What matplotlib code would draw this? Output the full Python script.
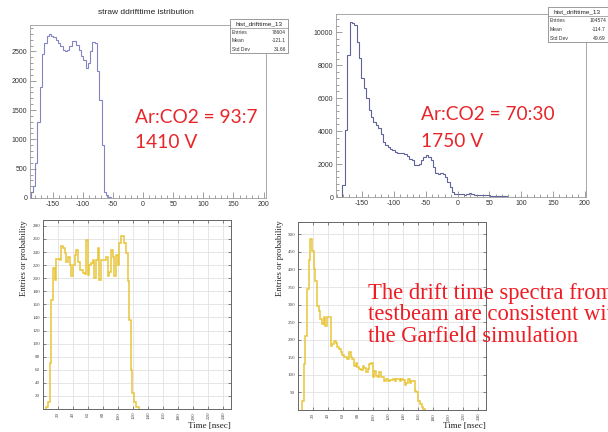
import numpy as np
import matplotlib
matplotlib.use("Agg")
import matplotlib.pyplot as plt
from matplotlib.patches import Rectangle
from matplotlib.lines import Line2D
from matplotlib.ticker import MultipleLocator

plt.rcParams['axes.unicode_minus'] = False

# ---------------- data ----------------
# top-left: Ar:CO2 = 93:7, 1410 V (measured)
tl_start, tl_width = -187.0, 3.8
tl_counts = [100, 200, 590, 1290, 1900, 2450, 2650, 2760, 2800, 2760, 2740, 2700,
             2650, 2590, 2530, 2500, 2530, 2590, 2670, 2670, 2610, 2530, 2420, 2360,
             2220, 2300, 2500, 2660, 2650, 2160, 1670, 900, 100, 45, 10, 5]
tl_stats = ["hist_drifttime_13", ["Entries", "78604"], ["Mean", "-121.1"], ["Std Dev", "31.66"]]

# top-right: Ar:CO2 = 70:30, 1750 V (measured)
tr_start, tr_width = -181.0, 3.75
tr_counts = [710, 4060, 8620, 10590, 10550, 10450, 9430, 8420, 7200, 6590, 5980, 5270,
             4870, 4560, 4360, 4160, 3850, 3350, 3140, 3040, 2940, 2840, 2740, 2640,
             2680, 2640, 2600, 2490, 2330, 2230, 1930, 1930, 2030, 2230, 2430, 2530,
             2430, 2230, 1830, 1460, 1420, 1480, 1420, 1220, 910, 610, 300, 200,
             190, 170, 160, 150, 180, 260, 200, 150, 120, 110, 100, 130, 150, 120,
             90, 80, 60, 60, 50, 40, 40, 30, 30, 20, 20, 20, 10, 10, 10, 10]
tr_stats = ["hist_drifttime_13", ["Entries", "104574"], ["Mean", "-114.7"], ["Std Dev", "49.69"]]

# bottom-left: Garfield simulation (93:7)
bl_start, bl_width = 4.6, 2.2
bl_counts = [3, 10, 70, 167, 215, 197, 230, 230, 228, 250, 246, 238, 225, 233, 220, 203,
             220, 236, 243, 225, 212, 212, 208, 207, 259, 205, 220, 223, 228, 200, 228,
             246, 197, 228, 228, 228, 233, 203, 210, 243, 233, 203, 236, 220, 254, 264,
             264, 254, 238, 195, 136, 60, 24, 11, 3, 3]

# bottom-right: Garfield simulation (70:30)
br_start, br_width = 5.2, 2.24
br_counts = [26, 131, 212, 345, 426, 488, 452, 402, 368, 297, 283, 259, 245, 264, 240,
             266, 266, 183, 188, 195, 192, 178, 173, 164, 157, 150, 152, 145, 164, 150,
             145, 126, 133, 121, 117, 114, 126, 119, 107, 117, 131, 133, 93, 112, 97, 95,
             107, 93, 93, 83, 88, 83, 86, 85, 88, 83, 88, 88, 83, 88, 85, 72, 76, 88, 78,
             83, 83, 55, 50, 26, 17, 9, 2]

top_title = "straw ddrifttime istribution"
label_tl = ["Ar:CO2 = 93:7", "1410 V"]
label_tr = ["Ar:CO2 = 70:30", "1750 V"]
conclusion = ["The drift time spectra from the", "testbeam are consistent with", "the Garfield simulation"]

# ---------------- figure ----------------
W, H = 608, 432
fig = plt.figure(figsize=(6.08, 4.32), dpi=100)
fig.patch.set_facecolor('white')


def box(l, t, r, b):
    return [l / W, 1 - b / H, (r - l) / W, (b - t) / H]


def fx(x):
    return x / W


def fy(y):
    return 1 - y / H


def root_axes(rect, counts, start, width, xlim, ylim, ymaj, ymin, color):
    ax = fig.add_axes(rect)
    edges = start + width * np.arange(len(counts) + 1)
    ax.stairs(counts, edges, color=color, lw=0.8, baseline=0)
    ax.set_xlim(*xlim)
    ax.set_ylim(*ylim)
    ax.xaxis.set_major_locator(MultipleLocator(50))
    ax.xaxis.set_minor_locator(MultipleLocator(10))
    ax.yaxis.set_major_locator(MultipleLocator(ymaj))
    ax.yaxis.set_minor_locator(MultipleLocator(ymin))
    for s in ax.spines.values():
        s.set_color('#9a9a9a')
        s.set_linewidth(0.6)
    ax.tick_params(which='both', direction='in', color='#777777', width=0.5,
                   labelsize=5, labelcolor='#333333', pad=2)
    ax.tick_params(which='major', length=4)
    ax.tick_params(which='minor', length=2)
    for lab in ax.get_xticklabels() + ax.get_yticklabels():
        lab.set_family('Liberation Sans')
    return ax


ax1 = root_axes(box(30, 25, 266, 198), tl_counts, tl_start, tl_width,
                (-188, 204), (0, 2950), 500, 100, '#8284c4')
ax2 = root_axes(box(336, 14, 586, 197), tr_counts, tr_start, tr_width,
                (-191, 202), (0, 11100), 2000, 400, '#5f6399')

fig.text(fx(146), fy(13), top_title, ha='center', va='center', fontsize=6,
         family='Liberation Sans', color='#222222')


def stats_box(l, t, r, b, stats, val_right):
    fig.patches.append(Rectangle((fx(l), fy(b)), fx(r) - fx(l), fy(t) - fy(b),
                                 transform=fig.transFigure, facecolor='white',
                                 edgecolor='#8a8a8a', lw=0.6, zorder=5))
    rowh = (b - t) / 4.0
    fig.text(fx(l + 29), fy(t + rowh / 2 + 0.5), stats[0], ha='center', va='center',
             fontsize=4.6, family='Liberation Sans', color='#222222', zorder=6)
    fig.lines.append(Line2D([fx(l), fx(r)], [fy(t + rowh + 0.5)] * 2, transform=fig.transFigure,
                            color='#8a8a8a', lw=0.5, zorder=6))
    for i, (name, val) in enumerate(stats[1:]):
        yc = t + rowh * (i + 1.5) + 0.5
        fig.text(fx(l + 2), fy(yc), name, ha='left', va='center', fontsize=3.6,
                 family='Liberation Sans', color='#333333', zorder=6)
        fig.text(fx(val_right), fy(yc), val, ha='right', va='center', fontsize=3.6,
                 family='Liberation Sans', color='#333333', zorder=6)


stats_box(230, 19, 288, 53, tl_stats, 286)
stats_box(548, 7, 618, 42, tr_stats, 606)

red = '#e8262a'
for i, s in enumerate(label_tl):
    fig.text(fx(135), fy(123 + 25 * i), s, ha='left', va='baseline', fontsize=13.8,
             family='Lato', color=red)
for i, s in enumerate(label_tr):
    fig.text(fx(421), fy(120 + 27 * i), s, ha='left', va='baseline', fontsize=13.8,
             family='Lato', color=red)


def sim_axes(rect, counts, start, width, ylim, yticks):
    ax = fig.add_axes(rect)
    edges = start + width * np.arange(len(counts) + 1)
    ax.stairs(counts, edges, color='#e8c53a', lw=1.1, baseline=0, zorder=3)
    ax.set_xlim(0, 250)
    ax.set_ylim(*ylim)
    ax.set_xticks(np.arange(20, 241, 20))
    ax.set_yticks(yticks)
    ax.grid(True, color='#e2e2e2', lw=0.6, zorder=0)
    for s in ax.spines.values():
        s.set_color('#666666')
        s.set_linewidth(0.7)
    ax.tick_params(which='both', direction='in', length=2, width=0.5, color='#555555',
                   top=True, right=True, labelsize=3.6, labelcolor='#444444', pad=2)
    for lab in ax.get_xticklabels():
        lab.set_rotation(90)
        lab.set_family('Liberation Serif')
    for lab in ax.get_yticklabels():
        lab.set_family('Liberation Serif')
    return ax


ax3 = sim_axes(box(43, 220, 231, 409), bl_counts, bl_start, bl_width, (0, 289),
               np.arange(20, 281, 20))
ax4 = sim_axes(box(298, 222, 486, 410), br_counts, br_start, br_width, (0, 535),
               np.arange(50, 501, 50))

for ax, lx, rx in [(ax3, 24, 231), (ax4, 280, 486)]:
    fig.text(fx(lx), fy(258), "Entries or probability", rotation=90, ha='center',
             va='center', fontsize=6.3, family='Liberation Serif', color='#222222')
    fig.text(fx(rx), fy(426), "Time [nsec]", ha='right', va='center', fontsize=6.5,
             family='Liberation Serif', color='#222222')

for i, s in enumerate(conclusion):
    fig.text(fx(368), fy(299 + 21.3 * i), s, ha='left', va='baseline', fontsize=16.3,
             family='Liberation Serif', color='#ee1c24', zorder=10)

fig.savefig("out.png", dpi=100)
